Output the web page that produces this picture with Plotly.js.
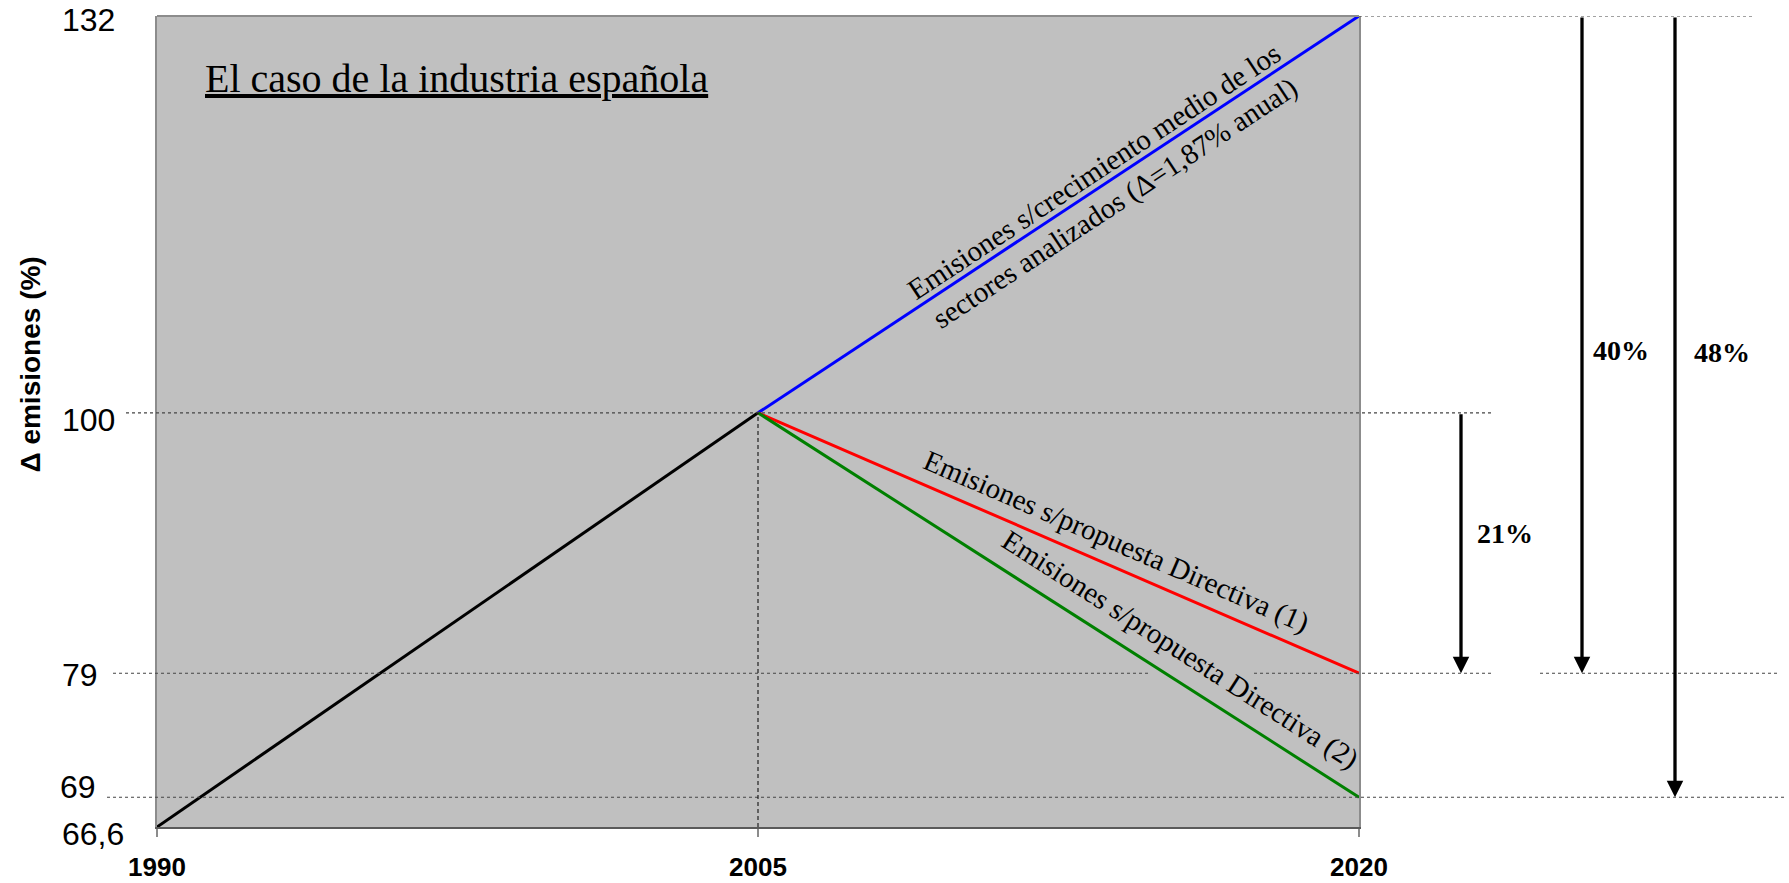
<!DOCTYPE html>
<html>
<head>
<meta charset="utf-8">
<script src="https://cdn.plot.ly/plotly-3.0.1.min.js"></script>
<style>
  html, body { margin: 0; padding: 0; background: #ffffff; }
  #chart { width: 1789px; height: 883px; }
</style>
</head>
<body>
<div id="chart"></div>
<script>
// ---- Datos ----
const years = [1990, 2005, 2020];
const historico = [66.6, 100];          // 1990 -> 2005
const crecimientoMedio = [100, 132];     // 2005 -> 2020, crecimiento medio 1,87% anual
const directiva1 = [100, 79];            // 2005 -> 2020, propuesta Directiva (1)
const directiva2 = [100, 69];            // 2005 -> 2020, propuesta Directiva (2)

const yTickVals = [66.6, 69, 79, 100, 132];
const yTickText = ['66,6', '69', '79', '100', '132'];

const reduccionDesde = [100, 132, 132];
const reduccionHasta = [79, 79, 69];
const reduccionTexto = ['21%', '40%', '48%'];

// ---- Geometría de la figura ----
const W = 1789, H = 883;
const M = { l: 157, r: 430, t: 16, b: 56 };
const plotW = W - M.l - M.r;
const plotH = H - M.t - M.b;
const xRange = [years[0], years[2]];
const yRange = [historico[0], crecimientoMedio[1]];

const pxX = px => (px - M.l) / plotW;          // píxel horizontal -> fracción de papel
const pxY = py => 1 - (py - M.t) / plotH;      // píxel vertical -> fracción de papel

// Ángulo en pantalla (grados, sentido horario positivo) de un segmento de datos
function screenAngle(x0, y0, x1, y1) {
  const dx = (x1 - x0) / (xRange[1] - xRange[0]) * plotW;
  const dy = -(y1 - y0) / (yRange[1] - yRange[0]) * plotH;
  return Math.atan2(dy, dx) * 180 / Math.PI;
}
// Valor sobre un segmento para un año dado
function onLine(x, x0, y0, x1, y1) {
  return y0 + (y1 - y0) * (x - x0) / (x1 - x0);
}

const serif = 'Liberation Serif, Times New Roman, serif';
const sans = 'Liberation Sans, Arial, sans-serif';

// ---- Trazas ----
function seg(xs, ys, color, name) {
  return {
    type: 'scatter', mode: 'lines', name: name,
    x: xs, y: ys, cliponaxis: false,
    line: { color: color, width: 3 },
    hoverinfo: 'x+y'
  };
}
const traces = [
  seg([years[0], years[1]], historico, '#000000', 'Histórico'),
  seg([years[1], years[2]], crecimientoMedio, '#0000ff', 'Crecimiento medio'),
  seg([years[1], years[2]], directiva1, '#ff0000', 'Directiva (1)'),
  seg([years[1], years[2]], directiva2, '#008000', 'Directiva (2)')
];

// ---- Líneas de referencia punteadas (tramos en píxeles horizontales) ----
const guideStyle = { color: '#444444', width: 1.2, dash: 'dot' };
const guideSegments = [
  { y: 132, spans: [[1359, 1752]] },
  { y: 100, spans: [[126, 1492]] },
  { y: 79,  spans: [[113, 1150], [1254, 1492], [1540, 1780]] },
  { y: 69,  spans: [[107, 1787]] }
];
const shapes = [];
guideSegments.forEach(g => {
  g.spans.forEach(s => {
    shapes.push({
      type: 'line', layer: 'above',
      xref: 'paper', yref: 'y',
      x0: pxX(s[0]), x1: pxX(s[1]), y0: g.y, y1: g.y,
      line: guideStyle
    });
  });
});
// Línea vertical en 2005
shapes.push({
  type: 'line', layer: 'above', xref: 'x', yref: 'y',
  x0: years[1], x1: years[1], y0: yRange[0], y1: historico[1],
  line: { color: '#000000', width: 1, dash: '4px,3px' }
});
// Borde superior del área de trazado
shapes.push({
  type: 'line', layer: 'above', xref: 'paper', yref: 'paper',
  x0: 0, x1: 1, y0: 1, y1: 1,
  line: { color: '#8c8c8c', width: 2 }
});

// ---- Anotaciones ----
const annotations = [];

// Etiquetas del eje vertical (borde derecho en píxeles y desplazamiento vertical)
const yLabelRight = [126, 98, 100, 117, 117];
const yLabelShift = [-7, 10, -2, -7, -4];
yTickVals.forEach((v, i) => {
  annotations.push({
    xref: 'paper', yref: 'y', x: pxX(yLabelRight[i]), y: v, yshift: yLabelShift[i],
    xanchor: 'right', yanchor: 'middle', showarrow: false,
    text: yTickText[i], font: { family: sans, size: 32, color: '#000000' }
  });
});

// Título del eje vertical
annotations.push({
  xref: 'paper', yref: 'paper', x: pxX(29.5), y: pxY(365),
  xanchor: 'center', yanchor: 'middle', showarrow: false, textangle: -90,
  text: 'Δ emisiones (%)',
  font: { family: sans, size: 28, weight: 'bold', color: '#000000' }
});

// Etiquetas inclinadas de cada escenario
const angBlue = screenAngle(years[1], crecimientoMedio[0], years[2], crecimientoMedio[1]);
const angRed = screenAngle(years[1], directiva1[0], years[2], directiva1[1]);
const angGreen = screenAngle(years[1], directiva2[0], years[2], directiva2[1]);

const xBlue = 2013.66, xRed = 2013.93, xGreen = 2015.53;
annotations.push({
  xref: 'x', yref: 'y', x: xBlue,
  y: onLine(xBlue, years[1], crecimientoMedio[0], years[2], crecimientoMedio[1]),
  yshift: -4, showarrow: false, textangle: angBlue,
  xanchor: 'center', yanchor: 'middle', align: 'center',
  text: 'Emisiones s/crecimiento medio de los<br>sectores analizados (Δ=1,87% anual)',
  font: { family: serif, size: 29, color: '#000000' }
});
annotations.push({
  xref: 'x', yref: 'y', x: xRed,
  y: onLine(xRed, years[1], directiva1[0], years[2], directiva1[1]),
  yshift: 26, showarrow: false, textangle: angRed,
  xanchor: 'center', yanchor: 'middle',
  text: 'Emisiones s/propuesta Directiva (1)',
  font: { family: serif, size: 29, color: '#000000' }
});
annotations.push({
  xref: 'x', yref: 'y', x: xGreen,
  y: onLine(xGreen, years[1], directiva2[0], years[2], directiva2[1]),
  yshift: 33, showarrow: false, textangle: angGreen,
  xanchor: 'center', yanchor: 'middle',
  text: 'Emisiones s/propuesta Directiva (2)',
  font: { family: serif, size: 29, color: '#000000' }
});

// Flechas de reducción y sus porcentajes
const arrowPx = [1461, 1582, 1675];
const labelPx = [[1505, 533], [1621, 351], [1722, 352]];
reduccionTexto.forEach((t, i) => {
  annotations.push({
    xref: 'paper', yref: 'y', x: pxX(arrowPx[i]), y: reduccionHasta[i],
    axref: 'pixel', ayref: 'y', ax: 0, ay: reduccionDesde[i],
    text: '', showarrow: true, arrowhead: 2, arrowsize: 1, arrowwidth: 3.3,
    arrowcolor: '#000000', standoff: 0, startstandoff: 0
  });
  annotations.push({
    xref: 'paper', yref: 'paper', x: pxX(labelPx[i][0]), y: pxY(labelPx[i][1]),
    xanchor: 'center', yanchor: 'middle', showarrow: false,
    text: t, font: { family: serif, size: 28, weight: 'bold', color: '#000000' }
  });
});

// ---- Diseño ----
const layout = {
  width: W, height: H,
  margin: M,
  paper_bgcolor: '#ffffff',
  plot_bgcolor: '#c0c0c0',
  showlegend: false,
  title: {
    text: 'El caso de la industria española',
    xref: 'paper', yref: 'paper',
    x: pxX(205), xanchor: 'left',
    y: pxY(78), yanchor: 'middle',
    font: { family: serif, size: 40, color: '#000000', lineposition: 'under' }
  },
  xaxis: {
    range: xRange, tickvals: years, ticktext: years.map(String),
    showgrid: false, zeroline: false,
    showline: true, linecolor: '#5a5a5a', linewidth: 2, mirror: false,
    ticks: 'outside', ticklen: 8, tickwidth: 2, tickcolor: '#8c8c8c',
    ticklabelstandoff: 8,
    tickfont: { family: sans, size: 26, weight: 'bold', color: '#000000' },
    automargin: false, fixedrange: true
  },
  yaxis: {
    range: yRange, tickvals: yTickVals,
    showticklabels: false,
    showgrid: false, zeroline: false,
    showline: true, linecolor: '#8c8c8c', linewidth: 2, mirror: true,
    ticks: '',
    automargin: false, fixedrange: true
  },
  shapes: shapes,
  annotations: annotations
};

Plotly.newPlot('chart', traces, layout, { displayModeBar: false, staticPlot: true });
</script>
</body>
</html>
